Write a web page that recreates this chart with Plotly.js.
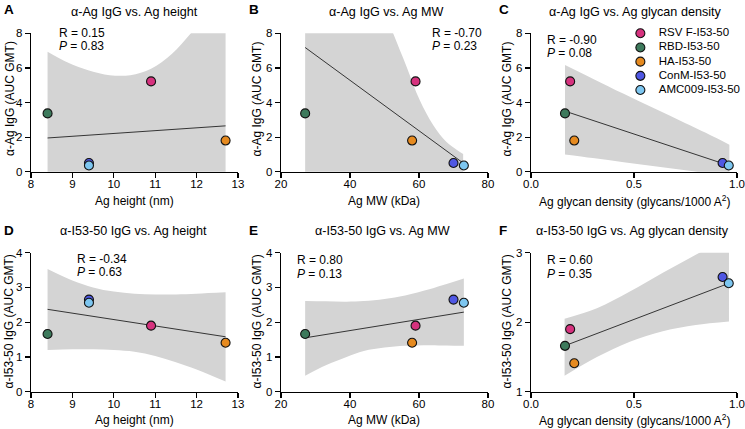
<!DOCTYPE html>
<html>
<head>
<meta charset="utf-8">
<script src="https://cdn.plot.ly/plotly-3.0.1.min.js"></script>
<style>html,body{margin:0;padding:0;background:#fff;}#chart{width:745px;height:429px;}</style>
</head>
<body>
<div id="chart"></div>
<script>
// ---------------- DATA ----------------
const seriesNames = ["RSV F-I53-50", "RBD-I53-50", "HA-I53-50", "ConM-I53-50", "AMC009-I53-50"];
const seriesColors = ["#D6327E", "#3D7A5C", "#E68A1F", "#4F57E3", "#7DC6F0"];

const agHeight = [10.9, 8.4, 12.7, 9.4, 9.4];          // nm
const agMW = [59, 27, 58, 70, 73];                      // kDa
const glycanDensity = [0.19, 0.165, 0.21, 0.93, 0.96];  // glycans/1000 A^2
const agIgG = [5.22, 3.37, 1.8, 0.5, 0.36];             // alpha-Ag IgG (AUC GMT)
const i5350IgG = [1.9, 1.66, 1.41, 2.65, 2.56];         // alpha-I53-50 IgG (AUC GMT)

// regression lines
const fitA_x = [8.4, 12.7],  fitA_y = [1.95, 2.65];
const fitB_x = [27, 72.8],   fitB_y = [7.18, 0.5];
const fitC_x = [0.165, 0.963], fitC_y = [3.5, 0.35];
const fitD_x = [8.4, 12.7],  fitD_y = [2.37, 1.58];
const fitE_x = [27, 73],     fitE_y = [1.55, 2.29];
const fitF_x = [0.163, 0.961], fitF_y = [1.66, 2.56];

// 95% confidence bands (parts beyond the axes are clipped)
const bandA_x  = [8.4, 8.9, 9.4, 9.9, 10.4, 10.9, 11.4, 11.9, 12.4, 12.7];
const bandA_hi = [6.94, 6.3, 5.85, 5.58, 5.58, 5.95, 6.8, 8.1, 9.3, 10.0];
const bandA_lo = [-3.2, -2.3, -1.6, -1.2, -1.1, -1.4, -1.9, -2.6, -3.4, -3.9];

const bandB_x  = [27, 38, 48, 52.5, 56.4, 60.2, 64.1, 67.9, 70.8, 72.8];
const bandB_hi = [20, 14.5, 10.3, 8.0, 6.07, 4.14, 2.7, 1.73, 1.29, 1.02];
const bandB_lo = [-6, -4, -2.5, -2, -1.8, -1.5, -1.2, -0.8, -0.6, -0.5];

const bandC_x  = [0.165, 0.3, 0.45, 0.6, 0.75, 0.9, 0.963];
const bandC_hi = [6.17, 5.38, 4.5, 3.65, 2.8, 1.95, 1.56];
const bandC_lo = [1.0, 0.79, 0.55, 0.32, 0.08, -0.16, -0.26];

const bandD_x  = [8.4, 9.0, 9.5, 10.0, 10.5, 11.0, 11.5, 12.0, 12.7];
const bandD_hi = [3.53, 3.2, 3.0, 2.88, 2.82, 2.80, 2.80, 2.82, 2.86];
const bandD_lo = [1.20, 1.22, 1.22, 1.20, 1.15, 1.03, 0.85, 0.64, 0.29];

const bandE_x  = [27, 33, 39, 44, 50, 56, 63, 68, 73];
const bandE_hi = [2.61, 2.60, 2.59, 2.61, 2.67, 2.77, 2.95, 3.1, 3.26];
const bandE_lo = [0.46, 0.76, 1.0, 1.17, 1.27, 1.32, 1.34, 1.33, 1.32];

const bandF_x  = [0.163, 0.32, 0.48, 0.64, 0.80, 0.961];
const bandF_hi = [2.05, 2.20, 2.44, 2.71, 2.97, 3.25];
const bandF_lo = [1.23, 1.50, 1.72, 1.87, 1.96, 2.01];

const panelTitles = ["α-Ag IgG vs. Ag height", "α-Ag IgG vs. Ag MW", "α-Ag IgG vs. Ag glycan density",
                     "α-I53-50 IgG vs. Ag height", "α-I53-50 IgG vs. Ag MW", "α-I53-50 IgG vs. Ag glycan density"];
const panelLetters = ["A", "B", "C", "D", "E", "F"];
const rText = ["0.15", "-0.70", "-0.90", "-0.34", "0.80", "0.60"];
const pText = ["0.83", "0.23", "0.08", "0.63", "0.13", "0.35"];
const xTitles = ["Ag height (nm)", "Ag MW (kDa)", "Ag glycan density (glycans/1000 A<sup>2</sup>)"];
const yTitles = ["α-Ag IgG (AUC GMT)", "α-I53-50 IgG (AUC GMT)"];

// ---------------- LAYOUT HELPERS ----------------
const W = 745, H = 429;
const FONT = "Arial, 'Liberation Sans', Helvetica, sans-serif";
const xd = (l, r) => [l / W, r / W];
const yd = (t, b) => [1 - b / H, 1 - t / H];

const panels = [
  {xs: agHeight, ys: agIgG, fx: fitA_x, fy: fitA_y, bx: bandA_x, bh: bandA_hi, bl: bandA_lo},
  {xs: agMW, ys: agIgG, fx: fitB_x, fy: fitB_y, bx: bandB_x, bh: bandB_hi, bl: bandB_lo},
  {xs: glycanDensity, ys: agIgG, fx: fitC_x, fy: fitC_y, bx: bandC_x, bh: bandC_hi, bl: bandC_lo},
  {xs: agHeight, ys: i5350IgG, fx: fitD_x, fy: fitD_y, bx: bandD_x, bh: bandD_hi, bl: bandD_lo},
  {xs: agMW, ys: i5350IgG, fx: fitE_x, fy: fitE_y, bx: bandE_x, bh: bandE_hi, bl: bandE_lo},
  {xs: glycanDensity, ys: i5350IgG, fx: fitF_x, fy: fitF_y, bx: bandF_x, bh: bandF_hi, bl: bandF_lo}
];

const data = [];
panels.forEach((p, i) => {
  const xa = i === 0 ? 'x' : 'x' + (i + 1);
  const ya = i === 0 ? 'y' : 'y' + (i + 1);
  data.push({x: p.bx, y: p.bl, xaxis: xa, yaxis: ya, mode: 'lines', line: {width: 0, shape: 'spline'}, hoverinfo: 'skip', showlegend: false});
  data.push({x: p.bx, y: p.bh, xaxis: xa, yaxis: ya, mode: 'lines', line: {width: 0, shape: 'spline'}, fill: 'tonexty', fillcolor: '#D4D4D4', hoverinfo: 'skip', showlegend: false});
  data.push({x: p.fx, y: p.fy, xaxis: xa, yaxis: ya, mode: 'lines', line: {width: 0.9, color: '#222'}, hoverinfo: 'skip', showlegend: false});
  data.push({x: p.xs, y: p.ys, xaxis: xa, yaxis: ya, mode: 'markers', cliponaxis: false,
    marker: {size: 9, color: seriesColors, line: {width: 1.1, color: '#111'}}, showlegend: false, hoverinfo: 'skip'});
});
// legend drawn as a small categorical subplot
data.push({x: seriesNames.map(() => 0), y: seriesNames, xaxis: 'x7', yaxis: 'y7', mode: 'markers', cliponaxis: false,
  marker: {size: 9, color: seriesColors, line: {width: 1.1, color: '#111'}}, showlegend: false, hoverinfo: 'skip'});
data.push({x: seriesNames.map(() => 0.19), y: seriesNames, xaxis: 'x7', yaxis: 'y7', mode: 'text', text: seriesNames, cliponaxis: false,
  textposition: 'middle right', textfont: {size: 11.5, color: '#000', family: FONT}, showlegend: false, hoverinfo: 'skip'});

const axBase = {showline: true, linecolor: '#000', linewidth: 1.3, ticks: 'outside', ticklen: 5, tickwidth: 1.2,
  tickcolor: '#000', showgrid: false, zeroline: false, tickfont: {size: 11.5, color: '#000', family: FONT},
  automargin: false, fixedrange: true, mirror: false};

const xDomains = [xd(31, 238), xd(281, 488), xd(531, 737)];
const yDomains = [yd(33.3, 171.7), yd(252.7, 391.7)];
const xRanges = [[8, 13], [20, 80], [0, 1]];
const xDticks = [1, 20, 0.5];
const yRanges = [[0, 8], [0, 8], [0, 8], [0, 4], [0, 4], [1, 3]];
const yDticks = [2, 2, 2, 1, 1, 1];

const layout = {
  width: W, height: H, margin: {l: 0, r: 0, t: 0, b: 0}, paper_bgcolor: '#fff', plot_bgcolor: 'rgba(0,0,0,0)',
  font: {family: FONT, color: '#000'}, showlegend: false, annotations: []
};

for (let i = 0; i < 6; i++) {
  const col = i % 3, row = Math.floor(i / 3);
  const xk = i === 0 ? 'xaxis' : 'xaxis' + (i + 1);
  const yk = i === 0 ? 'yaxis' : 'yaxis' + (i + 1);
  layout[xk] = Object.assign({}, axBase, {
    domain: xDomains[col], range: xRanges[col], dtick: xDticks[col], tick0: 0,
    anchor: i === 0 ? 'y' : 'y' + (i + 1), ticklabelstandoff: -4,
    tickformat: col === 2 ? '.1f' : ''
  });
  layout[yk] = Object.assign({}, axBase, {
    domain: yDomains[row], range: yRanges[i], dtick: yDticks[i], tick0: 0,
    anchor: i === 0 ? 'x' : 'x' + (i + 1)
  });
}
layout.xaxis7 = {domain: [0.8465, 0.99], range: [-0.1, 1], visible: false, anchor: 'y7', fixedrange: true};
layout.yaxis7 = {domain: yd(26.2, 97.1), type: 'category', categoryarray: seriesNames, range: [4.5, -0.5],
  visible: false, anchor: 'x7', fixedrange: true};

const ann = (px, py, text, size, xanchor, extra) => layout.annotations.push(Object.assign({
  xref: 'paper', yref: 'paper', x: px / W, y: 1 - py / H, xanchor: xanchor, yanchor: 'middle',
  showarrow: false, text: text, font: {size: size, family: FONT, color: '#000'}}, extra || {}));

// panel titles, letters, statistics, axis titles
const titleCenters = [[134, 12], [386, 12], [635, 12], [133, 231], [382.5, 231], [632.5, 231]];
const letterPos = [[2, 10], [247, 10], [497, 10], [2, 230], [247, 230], [497, 230]];
const statPos = [[56.7, 32.5], [430, 32.5], [545, 39.5], [75, 258.5], [295, 260], [545, 260]];
const xTitleY = [201, 420];
const yTitleX = [[10, 256.5, 506.5], [8.5, 256.5, 506.5]];
const yTitleY = [99, 322];
for (let i = 0; i < 6; i++) {
  const col = i % 3, row = Math.floor(i / 3);
  ann(titleCenters[i][0], titleCenters[i][1], panelTitles[i], 12.6, 'center');
  ann(letterPos[i][0], letterPos[i][1], '<b>' + panelLetters[i] + '</b>', 13.5, 'left');
  ann(statPos[i][0], statPos[i][1], 'R = ' + rText[i], 12, 'left', {align: 'left'});
  ann(statPos[i][0], statPos[i][1] + 13.6, '<i>P</i> = ' + pText[i], 12, 'left', {align: 'left'});
  ann((xDomains[col][0] + xDomains[col][1]) / 2 * W, xTitleY[row], xTitles[col], 12, 'center');
  ann(yTitleX[row][col], yTitleY[row], yTitles[row], 12, 'center', {textangle: -90});
}

Plotly.newPlot('chart', data, layout, {staticPlot: true, displayModeBar: false});
</script>
</body>
</html>
